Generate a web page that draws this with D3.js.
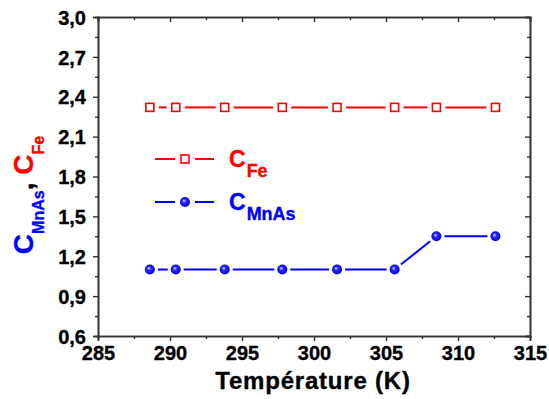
<!DOCTYPE html>
<html><head><meta charset="utf-8">
<script src="https://cdn.jsdelivr.net/npm/d3@7"></script>
<style>
html,body{margin:0;padding:0;background:#fff;}
svg{display:block;font-family:"Liberation Sans",Arial,sans-serif;font-weight:bold;}
</style></head>
<body>
<svg id="chart" width="549" height="399"></svg>
<script>
const temperature = [288.6, 290.4, 293.8, 297.8, 301.6, 305.6, 308.5, 312.6];
const cFe = [2.32, 2.32, 2.32, 2.32, 2.32, 2.32, 2.32, 2.32];
const cMnAs = [1.1, 1.1, 1.1, 1.1, 1.1, 1.1, 1.35, 1.35];
const xTicks = [285, 290, 295, 300, 305, 310, 315];
const yTicks = [0.6, 0.9, 1.2, 1.5, 1.8, 2.1, 2.4, 2.7, 3.0];

const svg = d3.select("#chart");
const L = 98, R = 530, T = 17, B = 336;
const x = d3.scaleLinear().domain([285, 315]).range([L, R]);
const y = d3.scaleLinear().domain([0.6, 3.0]).range([B, T]);
const axisColor = "#333";

const defs = svg.append("defs");
const grad = defs.append("radialGradient").attr("id", "ball")
  .attr("cx", "50%").attr("cy", "50%").attr("r", "55%").attr("fx", "38%").attr("fy", "35%");
grad.append("stop").attr("offset", "0%").attr("stop-color", "#eeeeff");
grad.append("stop").attr("offset", "35%").attr("stop-color", "#2a2aff");
grad.append("stop").attr("offset", "100%").attr("stop-color", "#0000d0");

const fmt = d => d3.format(".1f")(d).replace(".", ",");
const minorX = d3.range(287.5, 315, 5);
const minorY = d3.range(0.75, 3.0, 0.3);

// Bottom axis (ticks outward)
const gB = svg.append("g").attr("transform", `translate(0,${B})`)
  .call(d3.axisBottom(x).tickValues(xTicks).tickSize(5).tickPadding(3).tickFormat(d3.format("d")));
gB.append("g").call(d3.axisBottom(x).tickValues(minorX).tickSize(3).tickFormat(""));
// Left axis
const gL = svg.append("g").attr("transform", `translate(${L},0)`)
  .call(d3.axisLeft(y).tickValues(yTicks).tickSize(5).tickPadding(7).tickFormat(fmt));
gL.append("g").call(d3.axisLeft(y).tickValues(minorY).tickSize(3).tickFormat(""));
// Top axis (ticks inward)
const gT = svg.append("g").attr("transform", `translate(0,${T})`)
  .call(d3.axisBottom(x).tickValues(xTicks).tickSize(5).tickFormat(""));
gT.append("g").call(d3.axisBottom(x).tickValues(minorX).tickSize(3).tickFormat(""));
// Right axis (ticks inward)
const gR = svg.append("g").attr("transform", `translate(${R},0)`)
  .call(d3.axisLeft(y).tickValues(yTicks).tickSize(5).tickFormat(""));
gR.append("g").call(d3.axisLeft(y).tickValues(minorY).tickSize(3).tickFormat(""));

svg.selectAll(".domain").attr("stroke", axisColor).attr("stroke-width", 1.6);
svg.selectAll(".tick line").attr("stroke", axisColor).attr("stroke-width", 1.4);
svg.selectAll(".tick text").attr("fill", "#000").attr("font-size", 20)
  .attr("stroke", "#000").attr("stroke-width", 0.35)
  .attr("font-family", "Liberation Sans, Arial, sans-serif").attr("font-weight", "bold");
gL.selectAll(".tick text").attr("dy", "0.36em");
gB.selectAll(".tick text").attr("dy", "0.78em");

// Series drawing with gaps near markers
function drawSeries(vals, color, gap) {
  const pts = temperature.map((t, i) => [x(t), y(vals[i])]);
  const g = svg.append("g");
  for (let i = 0; i < pts.length - 1; i++) {
    const [x1, y1] = pts[i], [x2, y2] = pts[i + 1];
    const dx = x2 - x1, dy = y2 - y1, len = Math.hypot(dx, dy);
    if (len <= 2 * gap) continue;
    const ux = dx / len, uy = dy / len;
    g.append("line")
      .attr("x1", x1 + ux * gap).attr("y1", y1 + uy * gap)
      .attr("x2", x2 - ux * gap).attr("y2", y2 - uy * gap)
      .attr("stroke", color).attr("stroke-width", 2);
  }
  return pts;
}
const ptsFe = drawSeries(cFe, "#ff0000", 9);
svg.append("g").selectAll("rect").data(ptsFe).join("rect")
  .attr("x", d => d[0] - 4).attr("y", d => d[1] - 4)
  .attr("width", 8).attr("height", 8)
  .attr("fill", "#fff").attr("stroke", "#ff0000").attr("stroke-width", 1.6);

const ptsMn = drawSeries(cMnAs, "#0000ff", 8);
svg.append("g").selectAll("circle").data(ptsMn).join("circle")
  .attr("cx", d => d[0]).attr("cy", d => d[1]).attr("r", 5)
  .attr("fill", "url(#ball)");

// Legend
const lg = svg.append("g");
function legendRow(yy, color, sub, marker) {
  lg.append("line").attr("x1", 155).attr("x2", 175).attr("y1", yy).attr("y2", yy)
    .attr("stroke", color).attr("stroke-width", 2);
  lg.append("line").attr("x1", 195).attr("x2", 214).attr("y1", yy).attr("y2", yy)
    .attr("stroke", color).attr("stroke-width", 2);
  if (marker === "square") {
    lg.append("rect").attr("x", 181).attr("y", yy - 4).attr("width", 8).attr("height", 8)
      .attr("fill", "#fff").attr("stroke", color).attr("stroke-width", 1.6);
  } else {
    lg.append("circle").attr("cx", 185).attr("cy", yy).attr("r", 5).attr("fill", "url(#ball)");
  }
  const t = lg.append("text").attr("x", 229).attr("y", yy + 8).attr("fill", color)
    .attr("stroke", color).attr("stroke-width", 0.35).attr("font-size", 23);
  t.append("tspan").text("C");
  t.append("tspan").attr("dx", 1).attr("dy", 10).attr("font-size", 18).text(sub);
}
legendRow(159, "#ff0000", "Fe", "square");
legendRow(202, "#0000ff", "MnAs", "circle");

// Axis titles
svg.append("text").attr("x", (L + R) / 2 - 1).attr("y", 389)
  .attr("text-anchor", "middle").attr("font-size", 24).attr("letter-spacing", 0.8)
  .attr("fill", "#000").attr("stroke", "#000").attr("stroke-width", 0.35)
  .text("Température (K)");

const yt = svg.append("text").attr("transform", "translate(33,195) rotate(-90)")
  .attr("text-anchor", "middle").attr("font-size", 28).attr("stroke-width", 0.35);
yt.append("tspan").attr("fill", "#0000ff").attr("stroke", "#0000ff").text("C");
yt.append("tspan").attr("fill", "#0000ff").attr("stroke", "#0000ff").attr("font-size", 16).attr("dy", 11).text("MnAs");
yt.append("tspan").attr("fill", "#000").attr("stroke", "#000").attr("dy", -11).text(", ");
yt.append("tspan").attr("fill", "#ff0000").attr("stroke", "#ff0000").text("C");
yt.append("tspan").attr("fill", "#ff0000").attr("stroke", "#ff0000").attr("font-size", 16).attr("dy", 11).text("Fe");
</script>
</body></html>
